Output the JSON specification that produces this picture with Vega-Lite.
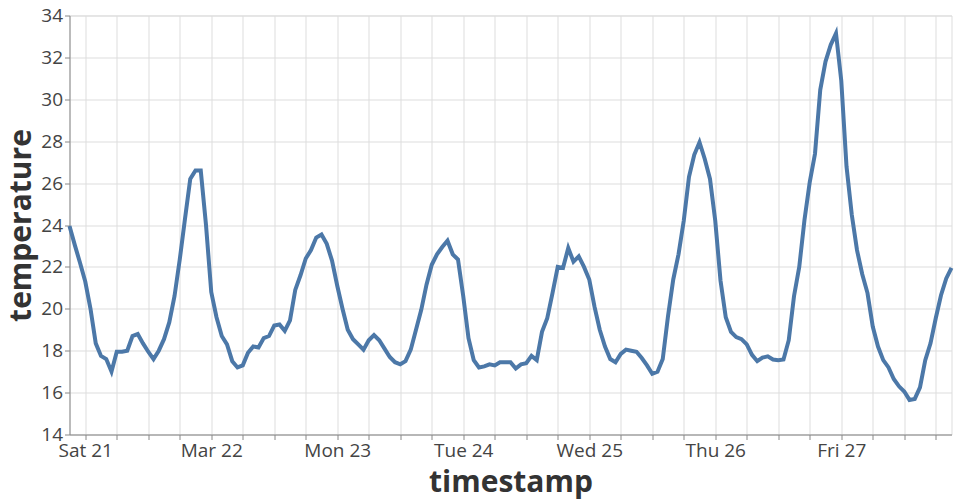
{
  "$schema": "https://vega.github.io/schema/vega-lite/v6.json",
  "width": 882,
  "height": 419,
  "autosize": {"type": "none"},
  "padding": {"left": 69.5, "top": 15.5, "right": 8.5, "bottom": 65.5},
  "config": {
    "font": "Open Sans",
    "axis": {"labelFont": "Open Sans", "titleFont": "Open Sans", "labelFontSize": 19, "titleFontSize": 30, "titleFontWeight": "bold", "labelColor": "#444", "titleColor": "#333", "gridColor": "#ddd"}
  },
  "data": {"values": [
    {"timestamp": "2015-03-20T21:00:00", "temperature": 23.95},
    {"timestamp": "2015-03-20T22:00:00", "temperature": 23.05},
    {"timestamp": "2015-03-20T23:00:00", "temperature": 22.2},
    {"timestamp": "2015-03-21T00:00:00", "temperature": 21.3},
    {"timestamp": "2015-03-21T01:00:00", "temperature": 20.0},
    {"timestamp": "2015-03-21T02:00:00", "temperature": 18.35},
    {"timestamp": "2015-03-21T03:00:00", "temperature": 17.75},
    {"timestamp": "2015-03-21T04:00:00", "temperature": 17.6},
    {"timestamp": "2015-03-21T05:00:00", "temperature": 17.0},
    {"timestamp": "2015-03-21T06:00:00", "temperature": 17.95},
    {"timestamp": "2015-03-21T07:00:00", "temperature": 17.95},
    {"timestamp": "2015-03-21T08:00:00", "temperature": 18.0},
    {"timestamp": "2015-03-21T09:00:00", "temperature": 18.7},
    {"timestamp": "2015-03-21T10:00:00", "temperature": 18.8},
    {"timestamp": "2015-03-21T11:00:00", "temperature": 18.35},
    {"timestamp": "2015-03-21T12:00:00", "temperature": 17.95},
    {"timestamp": "2015-03-21T13:00:00", "temperature": 17.6},
    {"timestamp": "2015-03-21T14:00:00", "temperature": 18.0},
    {"timestamp": "2015-03-21T15:00:00", "temperature": 18.55},
    {"timestamp": "2015-03-21T16:00:00", "temperature": 19.35},
    {"timestamp": "2015-03-21T17:00:00", "temperature": 20.6},
    {"timestamp": "2015-03-21T18:00:00", "temperature": 22.35},
    {"timestamp": "2015-03-21T19:00:00", "temperature": 24.3},
    {"timestamp": "2015-03-21T20:00:00", "temperature": 26.2},
    {"timestamp": "2015-03-21T21:00:00", "temperature": 26.6},
    {"timestamp": "2015-03-21T22:00:00", "temperature": 26.6},
    {"timestamp": "2015-03-21T23:00:00", "temperature": 24.0},
    {"timestamp": "2015-03-22T00:00:00", "temperature": 20.8},
    {"timestamp": "2015-03-22T01:00:00", "temperature": 19.6},
    {"timestamp": "2015-03-22T02:00:00", "temperature": 18.7},
    {"timestamp": "2015-03-22T03:00:00", "temperature": 18.3},
    {"timestamp": "2015-03-22T04:00:00", "temperature": 17.5},
    {"timestamp": "2015-03-22T05:00:00", "temperature": 17.2},
    {"timestamp": "2015-03-22T06:00:00", "temperature": 17.3},
    {"timestamp": "2015-03-22T07:00:00", "temperature": 17.9},
    {"timestamp": "2015-03-22T08:00:00", "temperature": 18.2},
    {"timestamp": "2015-03-22T09:00:00", "temperature": 18.15},
    {"timestamp": "2015-03-22T10:00:00", "temperature": 18.6},
    {"timestamp": "2015-03-22T11:00:00", "temperature": 18.7},
    {"timestamp": "2015-03-22T12:00:00", "temperature": 19.2},
    {"timestamp": "2015-03-22T13:00:00", "temperature": 19.25},
    {"timestamp": "2015-03-22T14:00:00", "temperature": 18.95},
    {"timestamp": "2015-03-22T15:00:00", "temperature": 19.45},
    {"timestamp": "2015-03-22T16:00:00", "temperature": 20.9},
    {"timestamp": "2015-03-22T17:00:00", "temperature": 21.6},
    {"timestamp": "2015-03-22T18:00:00", "temperature": 22.4},
    {"timestamp": "2015-03-22T19:00:00", "temperature": 22.8},
    {"timestamp": "2015-03-22T20:00:00", "temperature": 23.4},
    {"timestamp": "2015-03-22T21:00:00", "temperature": 23.55},
    {"timestamp": "2015-03-22T22:00:00", "temperature": 23.1},
    {"timestamp": "2015-03-22T23:00:00", "temperature": 22.3},
    {"timestamp": "2015-03-23T00:00:00", "temperature": 21.1},
    {"timestamp": "2015-03-23T01:00:00", "temperature": 20.0},
    {"timestamp": "2015-03-23T02:00:00", "temperature": 19.0},
    {"timestamp": "2015-03-23T03:00:00", "temperature": 18.55},
    {"timestamp": "2015-03-23T04:00:00", "temperature": 18.3},
    {"timestamp": "2015-03-23T05:00:00", "temperature": 18.05},
    {"timestamp": "2015-03-23T06:00:00", "temperature": 18.5},
    {"timestamp": "2015-03-23T07:00:00", "temperature": 18.75},
    {"timestamp": "2015-03-23T08:00:00", "temperature": 18.5},
    {"timestamp": "2015-03-23T09:00:00", "temperature": 18.1},
    {"timestamp": "2015-03-23T10:00:00", "temperature": 17.7},
    {"timestamp": "2015-03-23T11:00:00", "temperature": 17.45},
    {"timestamp": "2015-03-23T12:00:00", "temperature": 17.35},
    {"timestamp": "2015-03-23T13:00:00", "temperature": 17.5},
    {"timestamp": "2015-03-23T14:00:00", "temperature": 18.05},
    {"timestamp": "2015-03-23T15:00:00", "temperature": 19.0},
    {"timestamp": "2015-03-23T16:00:00", "temperature": 19.95},
    {"timestamp": "2015-03-23T17:00:00", "temperature": 21.15},
    {"timestamp": "2015-03-23T18:00:00", "temperature": 22.1},
    {"timestamp": "2015-03-23T19:00:00", "temperature": 22.6},
    {"timestamp": "2015-03-23T20:00:00", "temperature": 22.95},
    {"timestamp": "2015-03-23T21:00:00", "temperature": 23.25},
    {"timestamp": "2015-03-23T22:00:00", "temperature": 22.6},
    {"timestamp": "2015-03-23T23:00:00", "temperature": 22.35},
    {"timestamp": "2015-03-24T00:00:00", "temperature": 20.6},
    {"timestamp": "2015-03-24T01:00:00", "temperature": 18.6},
    {"timestamp": "2015-03-24T02:00:00", "temperature": 17.55},
    {"timestamp": "2015-03-24T03:00:00", "temperature": 17.2},
    {"timestamp": "2015-03-24T04:00:00", "temperature": 17.25},
    {"timestamp": "2015-03-24T05:00:00", "temperature": 17.35},
    {"timestamp": "2015-03-24T06:00:00", "temperature": 17.3},
    {"timestamp": "2015-03-24T07:00:00", "temperature": 17.45},
    {"timestamp": "2015-03-24T08:00:00", "temperature": 17.45},
    {"timestamp": "2015-03-24T09:00:00", "temperature": 17.45},
    {"timestamp": "2015-03-24T10:00:00", "temperature": 17.15},
    {"timestamp": "2015-03-24T11:00:00", "temperature": 17.35},
    {"timestamp": "2015-03-24T12:00:00", "temperature": 17.4},
    {"timestamp": "2015-03-24T13:00:00", "temperature": 17.75},
    {"timestamp": "2015-03-24T14:00:00", "temperature": 17.55},
    {"timestamp": "2015-03-24T15:00:00", "temperature": 18.9},
    {"timestamp": "2015-03-24T16:00:00", "temperature": 19.55},
    {"timestamp": "2015-03-24T17:00:00", "temperature": 20.75},
    {"timestamp": "2015-03-24T18:00:00", "temperature": 22.0},
    {"timestamp": "2015-03-24T19:00:00", "temperature": 21.95},
    {"timestamp": "2015-03-24T20:00:00", "temperature": 22.9},
    {"timestamp": "2015-03-24T21:00:00", "temperature": 22.25},
    {"timestamp": "2015-03-24T22:00:00", "temperature": 22.5},
    {"timestamp": "2015-03-24T23:00:00", "temperature": 22.0},
    {"timestamp": "2015-03-25T00:00:00", "temperature": 21.4},
    {"timestamp": "2015-03-25T01:00:00", "temperature": 20.1},
    {"timestamp": "2015-03-25T02:00:00", "temperature": 19.0},
    {"timestamp": "2015-03-25T03:00:00", "temperature": 18.2},
    {"timestamp": "2015-03-25T04:00:00", "temperature": 17.6},
    {"timestamp": "2015-03-25T05:00:00", "temperature": 17.45},
    {"timestamp": "2015-03-25T06:00:00", "temperature": 17.85},
    {"timestamp": "2015-03-25T07:00:00", "temperature": 18.05},
    {"timestamp": "2015-03-25T08:00:00", "temperature": 18.0},
    {"timestamp": "2015-03-25T09:00:00", "temperature": 17.95},
    {"timestamp": "2015-03-25T10:00:00", "temperature": 17.65},
    {"timestamp": "2015-03-25T11:00:00", "temperature": 17.3},
    {"timestamp": "2015-03-25T12:00:00", "temperature": 16.9},
    {"timestamp": "2015-03-25T13:00:00", "temperature": 17.0},
    {"timestamp": "2015-03-25T14:00:00", "temperature": 17.6},
    {"timestamp": "2015-03-25T15:00:00", "temperature": 19.65},
    {"timestamp": "2015-03-25T16:00:00", "temperature": 21.4},
    {"timestamp": "2015-03-25T17:00:00", "temperature": 22.6},
    {"timestamp": "2015-03-25T18:00:00", "temperature": 24.2},
    {"timestamp": "2015-03-25T19:00:00", "temperature": 26.3},
    {"timestamp": "2015-03-25T20:00:00", "temperature": 27.35},
    {"timestamp": "2015-03-25T21:00:00", "temperature": 27.95},
    {"timestamp": "2015-03-25T22:00:00", "temperature": 27.15},
    {"timestamp": "2015-03-25T23:00:00", "temperature": 26.2},
    {"timestamp": "2015-03-26T00:00:00", "temperature": 24.2},
    {"timestamp": "2015-03-26T01:00:00", "temperature": 21.35},
    {"timestamp": "2015-03-26T02:00:00", "temperature": 19.6},
    {"timestamp": "2015-03-26T03:00:00", "temperature": 18.9},
    {"timestamp": "2015-03-26T04:00:00", "temperature": 18.65},
    {"timestamp": "2015-03-26T05:00:00", "temperature": 18.55},
    {"timestamp": "2015-03-26T06:00:00", "temperature": 18.3},
    {"timestamp": "2015-03-26T07:00:00", "temperature": 17.8},
    {"timestamp": "2015-03-26T08:00:00", "temperature": 17.5},
    {"timestamp": "2015-03-26T09:00:00", "temperature": 17.67},
    {"timestamp": "2015-03-26T10:00:00", "temperature": 17.73},
    {"timestamp": "2015-03-26T11:00:00", "temperature": 17.58},
    {"timestamp": "2015-03-26T12:00:00", "temperature": 17.55},
    {"timestamp": "2015-03-26T13:00:00", "temperature": 17.58},
    {"timestamp": "2015-03-26T14:00:00", "temperature": 18.5},
    {"timestamp": "2015-03-26T15:00:00", "temperature": 20.6},
    {"timestamp": "2015-03-26T16:00:00", "temperature": 22.0},
    {"timestamp": "2015-03-26T17:00:00", "temperature": 24.25},
    {"timestamp": "2015-03-26T18:00:00", "temperature": 26.05},
    {"timestamp": "2015-03-26T19:00:00", "temperature": 27.4},
    {"timestamp": "2015-03-26T20:00:00", "temperature": 30.45},
    {"timestamp": "2015-03-26T21:00:00", "temperature": 31.8},
    {"timestamp": "2015-03-26T22:00:00", "temperature": 32.6},
    {"timestamp": "2015-03-26T23:00:00", "temperature": 33.15},
    {"timestamp": "2015-03-27T00:00:00", "temperature": 30.9},
    {"timestamp": "2015-03-27T01:00:00", "temperature": 26.8},
    {"timestamp": "2015-03-27T02:00:00", "temperature": 24.5},
    {"timestamp": "2015-03-27T03:00:00", "temperature": 22.8},
    {"timestamp": "2015-03-27T04:00:00", "temperature": 21.65},
    {"timestamp": "2015-03-27T05:00:00", "temperature": 20.75},
    {"timestamp": "2015-03-27T06:00:00", "temperature": 19.15},
    {"timestamp": "2015-03-27T07:00:00", "temperature": 18.2},
    {"timestamp": "2015-03-27T08:00:00", "temperature": 17.55},
    {"timestamp": "2015-03-27T09:00:00", "temperature": 17.2},
    {"timestamp": "2015-03-27T10:00:00", "temperature": 16.65},
    {"timestamp": "2015-03-27T11:00:00", "temperature": 16.3},
    {"timestamp": "2015-03-27T12:00:00", "temperature": 16.05},
    {"timestamp": "2015-03-27T13:00:00", "temperature": 15.65},
    {"timestamp": "2015-03-27T14:00:00", "temperature": 15.7},
    {"timestamp": "2015-03-27T15:00:00", "temperature": 16.25},
    {"timestamp": "2015-03-27T16:00:00", "temperature": 17.55},
    {"timestamp": "2015-03-27T17:00:00", "temperature": 18.35},
    {"timestamp": "2015-03-27T18:00:00", "temperature": 19.55},
    {"timestamp": "2015-03-27T19:00:00", "temperature": 20.65},
    {"timestamp": "2015-03-27T20:00:00", "temperature": 21.45},
    {"timestamp": "2015-03-27T21:00:00", "temperature": 21.95}
  ]},
  "mark": {"type": "line", "strokeWidth": 4, "color": "#4c78a8"},
  "encoding": {
    "x": {
      "field": "timestamp",
      "type": "temporal",
      "title": "timestamp",
      "axis": {
        "labelExpr": "hours(datum.value) == 0 ? datum.label : ''",
        "labelOverlap": false,
        "labelFlush": false,
        "titlePadding": 7
      }
    },
    "y": {
      "field": "temperature",
      "type": "quantitative",
      "title": "temperature",
      "scale": {"domain": [14, 34], "zero": false},
      "axis": {"tickCount": 10}
    }
  }
}
